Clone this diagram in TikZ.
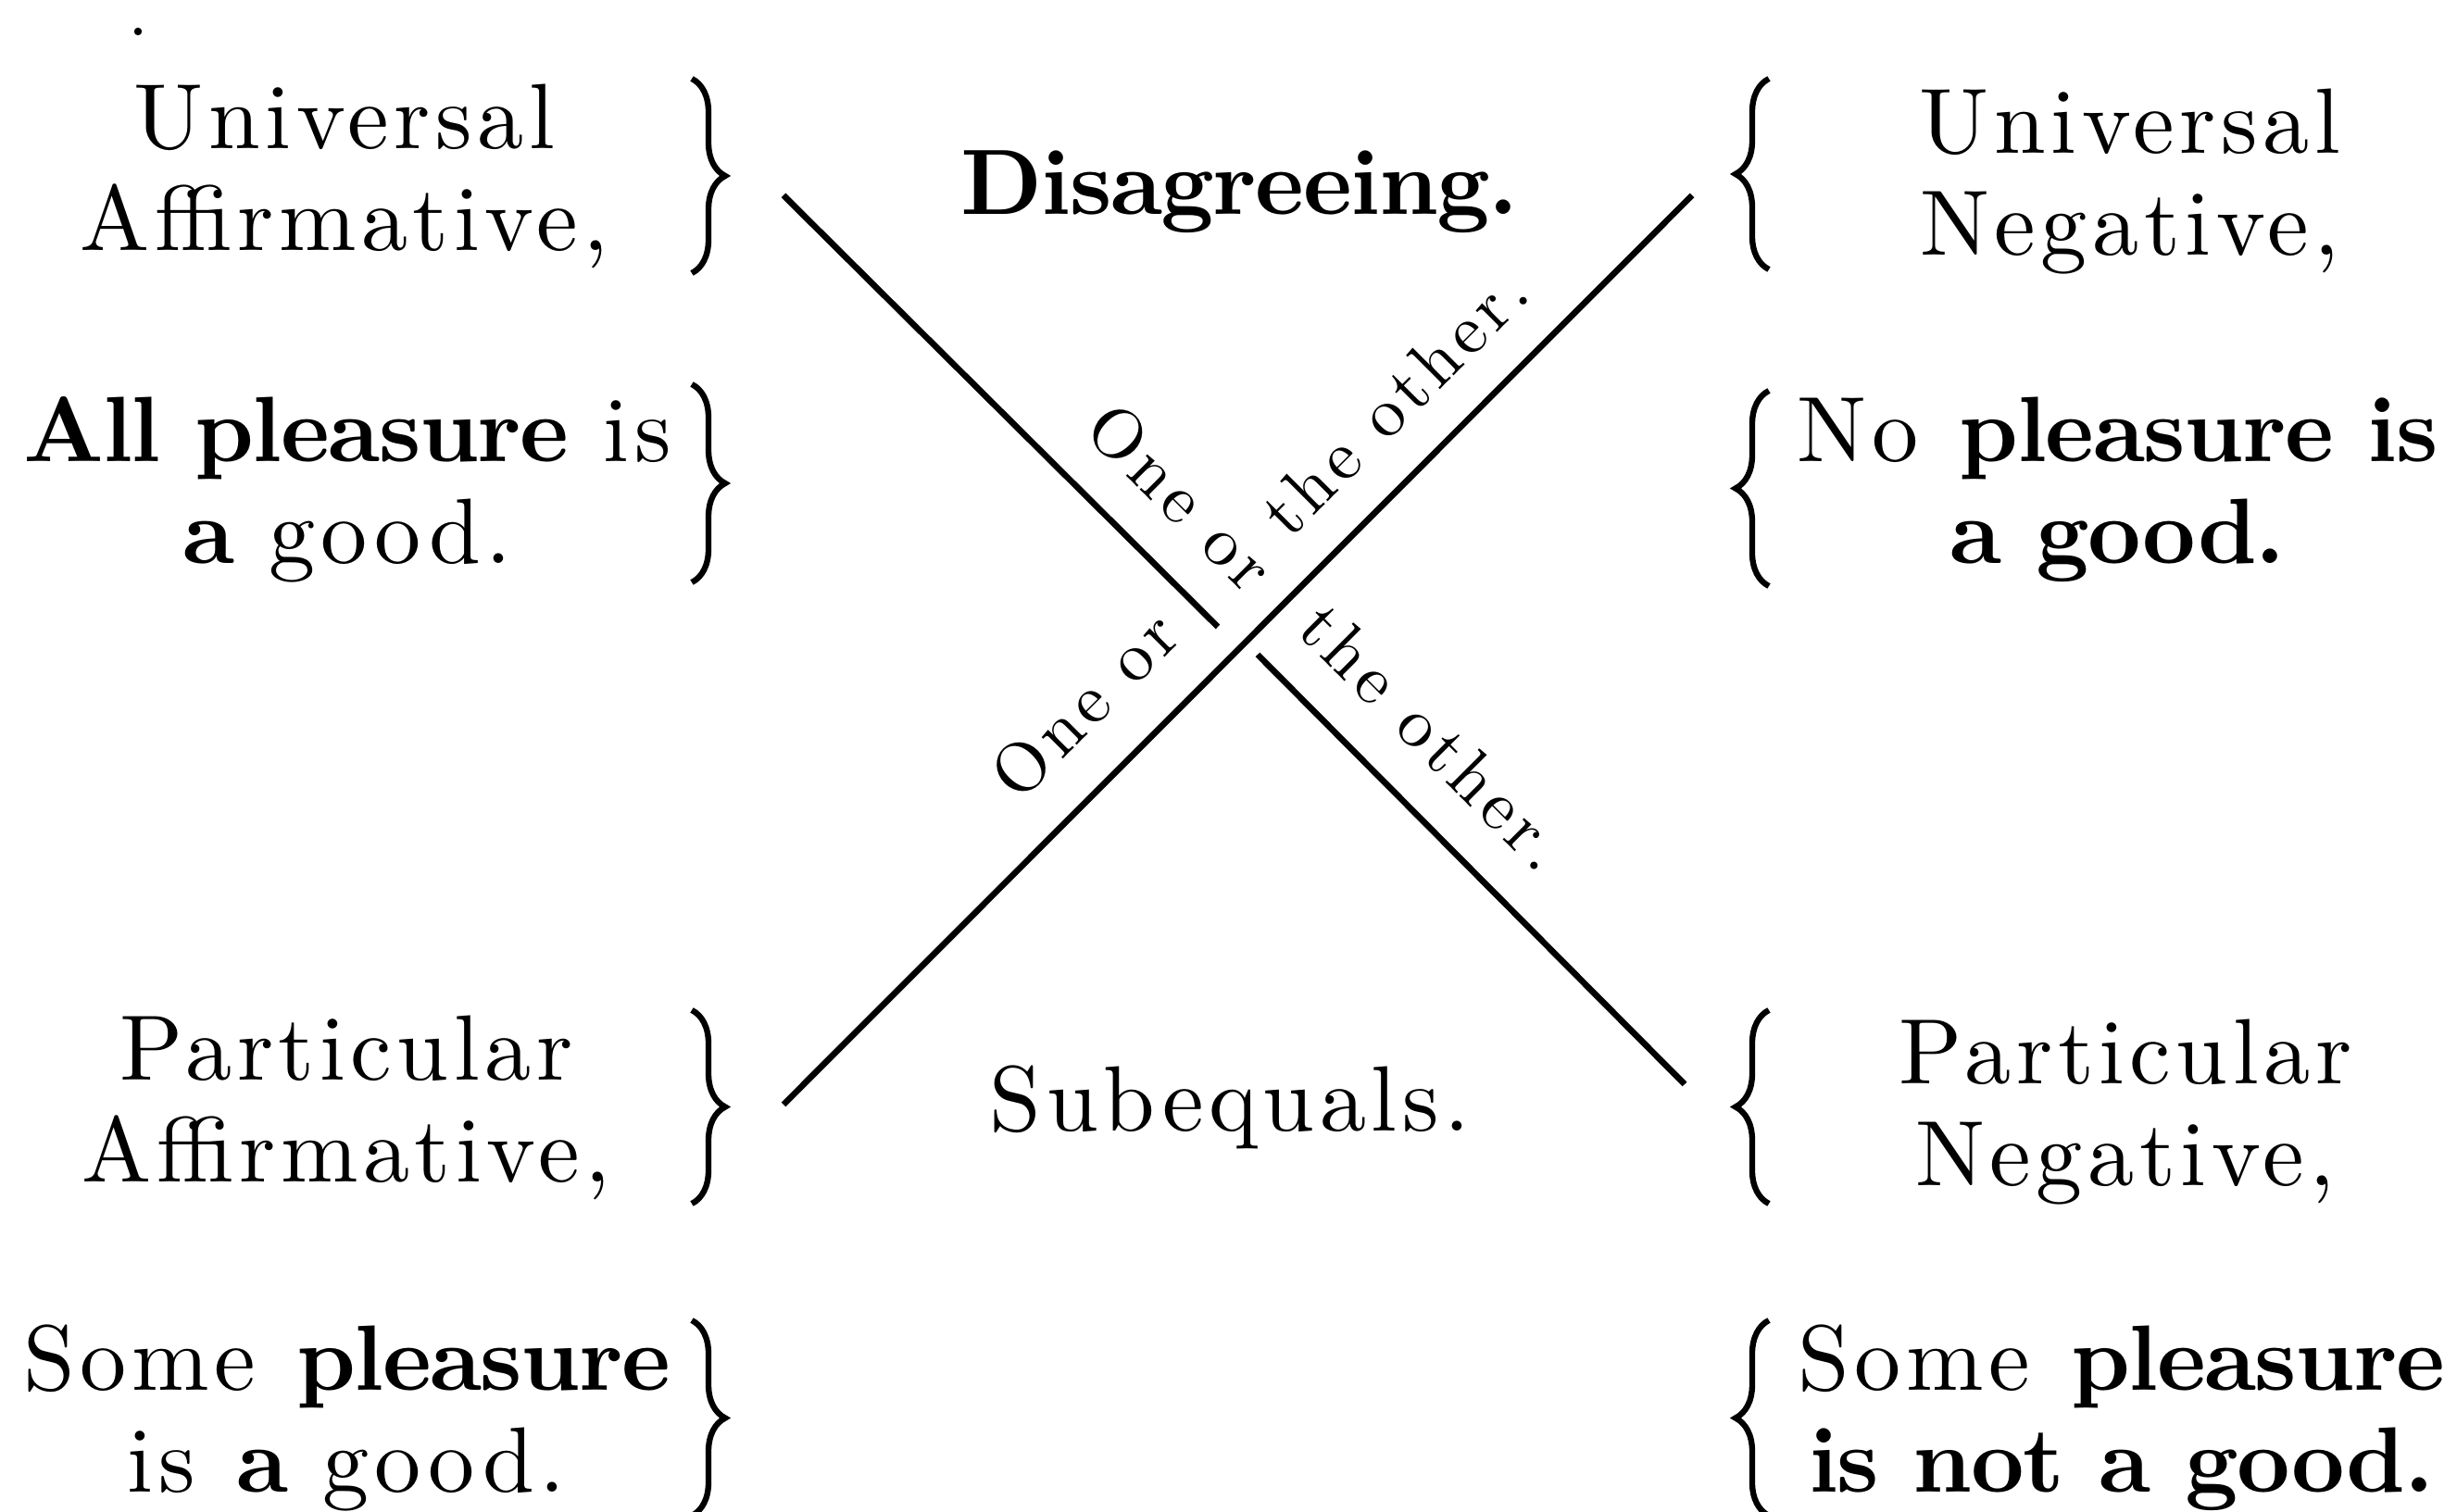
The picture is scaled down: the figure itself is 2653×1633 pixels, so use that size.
\documentclass[tikz,border=0pt]{standalone}
\usepackage{fontspec}
\setmainfont{lmroman10-regular.otf}[LetterSpace=5.5, BoldFont=lmroman10-bold.otf, BoldFeatures={LetterSpace=-1.5}]
\usetikzlibrary{positioning, decorations.pathreplacing, calc}

\begin{document}
\begin{tikzpicture}[x=0.01cm, y=0.01cm, font=\fontsize{28.5pt}{31.3pt}\selectfont]
  \tikzstyle{prop}=[align=center, inner sep=0pt, anchor=base]
  \tikzstyle{relation}=[inner sep=0pt, anchor=base]
  \tikzstyle{slant}=[inner sep=0pt, anchor=base, font=\fontsize{21.5pt}{25pt}\selectfont\addfontfeature{LetterSpace=8}]
  \tikzstyle{bar}=[line width=1.9pt]
  \tikzstyle{bracket}=[line width=1.8pt, decorate, decoration={brace, amplitude=0.36cm}]

  \useasboundingbox (0,0) rectangle (2653,1633);

  % left column
  \node[prop] (ua_name) at (372,1362) {Universal\\Affirmative,};
  \node[prop] (ua_case) at (375,1024) {\textbf{All pleasure} is\\\textbf{a} good.};
  \node[prop] (pa_name) at (374,356) {Particular\\Affirmative,};
  \node[prop] (pa_case) at (374,21) {Some \textbf{pleasure}\\is \textbf{a} good.};

  % right column
  \node[prop] (un_name) at (2300,1357) {Universal\\Negative,};
  \node[prop] (un_case) at (2286,1024) {No \textbf{pleasure is}\\\textbf{a good.}};
  \node[prop] (pn_name) at (2295,352) {Particular\\Negative,};
  \node[prop] (pn_case) at (2290,21) {Some \textbf{pleasure}\\\textbf{is not a good.}};

  % relations
  \node[relation] (disagree) at (1338,1401) {\textbf{Disagreeing.}};
  \node[relation] (subeq) at (1328,411) {Subequals.};

  % braces
  \draw[bracket] (747,1548) -- (747,1338);
  \draw[bracket] (747,1218) -- (747,1004);
  \draw[bracket] (747,542) -- (747,333);
  \draw[bracket] (747,207) -- (747,-4);
  \draw[bracket] (1910,1342) -- (1910,1548);
  \draw[bracket] (1910,1000) -- (1910,1211);
  \draw[bracket] (1910,333) -- (1910,542);
  \draw[bracket] (1910,-4) -- (1910,207);

  % corners of the cross
  \coordinate (ua_corner) at (846,1422);
  \coordinate (un_corner) at (1827,1422);
  \coordinate (pa_corner) at (846,440);
  \coordinate (pn_corner) at (1819,462);
  \coordinate (cut_a) at (1315,956);
  \coordinate (cut_b) at (1358,926);

  % cross
  \draw[bar] (ua_corner) -- (cut_a);
  \draw[bar] (cut_b) -- (pn_corner);
  \draw[bar] (pa_corner) -- (un_corner);

  % labels on the cross
  \node[slant, rotate=-45] (top_one) at (1257,1078) {One or};
  \node[slant, rotate=45] (top_other) at (1524,1181) {the other.};
  \node[slant, rotate=45] (low_one) at (1189,854) {One or};
  \node[slant, rotate=-45] (low_other) at (1530,819) {the other.};

  \fill (149,1599) circle (1.2pt);
\end{tikzpicture}
\end{document}
